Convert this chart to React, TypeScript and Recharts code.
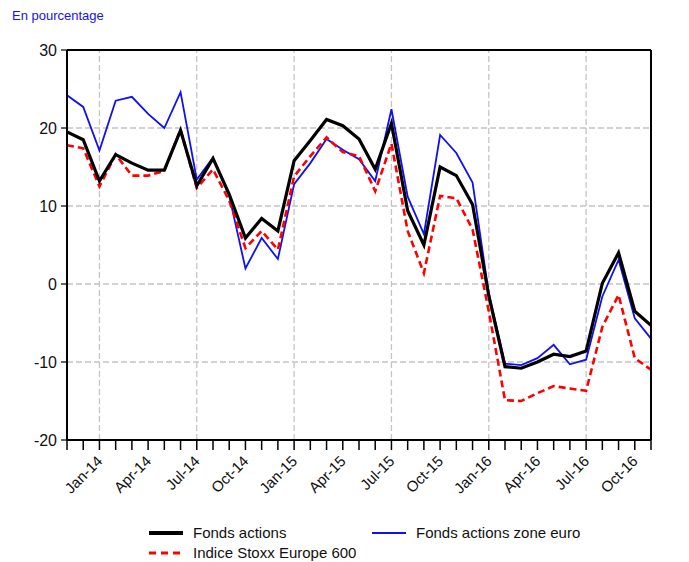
import React from "react";
import {
  LineChart,
  Line,
  XAxis,
  YAxis,
  CartesianGrid,
  ReferenceLine,
} from "recharts";

// Nov-13 .. Nov-16, monthly
const months = [
  "Nov-13", "Dec-13",
  "Jan-14", "Feb-14", "Mar-14", "Apr-14", "May-14", "Jun-14",
  "Jul-14", "Aug-14", "Sep-14", "Oct-14", "Nov-14", "Dec-14",
  "Jan-15", "Feb-15", "Mar-15", "Apr-15", "May-15", "Jun-15",
  "Jul-15", "Aug-15", "Sep-15", "Oct-15", "Nov-15", "Dec-15",
  "Jan-16", "Feb-16", "Mar-16", "Apr-16", "May-16", "Jun-16",
  "Jul-16", "Aug-16", "Sep-16", "Oct-16", "Nov-16",
];

const fondsActions = [
  19.5, 18.5,
  13.2, 16.6, 15.5, 14.6, 14.6, 19.7,
  12.6, 16.1, 11.5, 5.9, 8.4, 6.8,
  15.8, 18.4, 21.1, 20.3, 18.6, 14.7,
  20.6, 9.4, 5.0, 15.0, 13.9, 10.2,
  -1.5, -10.6, -10.8, -10.0, -9.0, -9.3,
  -8.6, 0.1, 4.0, -3.5, -5.3,
];

const fondsZoneEuro = [
  24.2, 22.7,
  17.1, 23.5, 24.0, 21.8, 20.0, 24.6,
  13.4, 16.2, 11.3, 2.0, 5.9, 3.2,
  12.8, 15.5, 18.6, 17.2, 16.0, 13.2,
  22.4, 11.2, 6.4, 19.1, 16.8, 13.0,
  -1.2, -10.2, -10.4, -9.5, -7.8, -10.3,
  -9.7, -1.6, 3.1, -4.4, -7.0,
];

const stoxx600 = [
  17.8, 17.4,
  12.5, 16.6, 13.9, 13.9, 14.5, 19.8,
  12.3, 14.7, 10.7, 4.6, 6.8, 4.4,
  13.8, 16.4, 18.8, 16.9, 16.4, 11.9,
  18.0, 6.8, 1.4, 11.3, 11.0, 7.0,
  -3.5, -14.9, -15.0, -14.0, -13.1, -13.4,
  -13.7, -5.5, -1.4, -9.5, -11.0,
];

const tickLabels = [
  "Jan-14", "Apr-14", "Jul-14", "Oct-14",
  "Jan-15", "Apr-15", "Jul-15", "Oct-15",
  "Jan-16", "Apr-16", "Jul-16", "Oct-16",
];
const gridMonths = ["Jan-14", "Jul-14", "Jan-15", "Jul-15", "Jan-16", "Jul-16"];
const yTicks = [-20, -10, 0, 10, 20, 30];

const data = months.map((month, i) => ({
  month,
  fonds: fondsActions[i],
  zoneEuro: fondsZoneEuro[i],
  stoxx: stoxx600[i],
}));

const FONT = "'Liberation Sans', Arial, sans-serif";
const GRID = "#c4c4c4";

function MonthTick(props: any) {
  const { x, y, payload } = props;
  if (!tickLabels.includes(payload.value)) return <g />;
  const tx = x + 4;
  const ty = y + 10;
  return (
    <text
      x={tx}
      y={ty}
      transform={`rotate(-45 ${tx} ${ty})`}
      textAnchor="end"
      fontSize={15}
      fontFamily={FONT}
      fill="#111"
    >
      {payload.value}
    </text>
  );
}

function LegendRow({ x, y, color, dash, width, label }: any) {
  return (
    <g>
      <line
        x1={x}
        x2={x + 34}
        y1={y}
        y2={y}
        stroke={color}
        strokeWidth={width}
        strokeDasharray={dash}
      />
      <text x={x + 44} y={y + 5} fontSize={15} fontFamily={FONT} fill="#111">
        {label}
      </text>
    </g>
  );
}

export default function App() {
  return (
    <div style={{ position: "absolute", left: 0, top: 0, width: 689, height: 562 }}>
      <div
        style={{
          position: "absolute",
          left: 12,
          top: 8,
          fontSize: 13,
          fontFamily: FONT,
          color: "#1414e6",
        }}
      >
        En pourcentage
      </div>
      <LineChart
        width={689}
        height={562}
        data={data}
        margin={{ top: 50, right: 0, bottom: 62, left: 0 }}
      >
        <CartesianGrid
          yAxisId="left"
          vertical={false}
          stroke={GRID}
          strokeDasharray="6 3"
          strokeWidth={1.3}
        />
        {gridMonths.map((m) => (
          <ReferenceLine
            key={m}
            x={m}
            yAxisId="left"
            stroke={GRID}
            strokeDasharray="6 3"
            strokeWidth={1.3}
          />
        ))}
        <XAxis
          dataKey="month"
          interval={0}
          height={60}
          tickSize={10}
          tickMargin={2}
          tick={<MonthTick />}
          axisLine={{ stroke: "#000", strokeWidth: 2 }}
          tickLine={{ stroke: "#000", strokeWidth: 1.5 }}
        />
        <YAxis
          yAxisId="left"
          width={67}
          domain={[-20, 30]}
          ticks={yTicks}
          interval={0}
          tickSize={6}
          tickMargin={4}
          axisLine={{ stroke: "#000", strokeWidth: 2 }}
          tickLine={{ stroke: "#000", strokeWidth: 1.2 }}
          tick={{ fontSize: 16, fontFamily: FONT, fill: "#111" }}
        />
        <YAxis
          yAxisId="right"
          orientation="right"
          width={38}
          domain={[-20, 30]}
          ticks={yTicks}
          interval={0}
          tickSize={6}
          tickMargin={5}
          axisLine={{ stroke: "#000", strokeWidth: 2 }}
          tickLine={{ stroke: "#000", strokeWidth: 1.2 }}
          tick={{ fontSize: 16, fontFamily: FONT, fill: "#111" }}
        />
        <ReferenceLine y={30} yAxisId="left" stroke="#000" strokeWidth={2} />
        <Line
          yAxisId="left"
          type="linear"
          dataKey="zoneEuro"
          stroke="#1010f0"
          strokeWidth={1.8}
          dot={false}
          isAnimationActive={false}
        />
        <Line
          yAxisId="left"
          type="linear"
          dataKey="stoxx"
          stroke="#ff0000"
          strokeWidth={2.6}
          strokeDasharray="7 4"
          dot={false}
          isAnimationActive={false}
        />
        <Line
          yAxisId="left"
          type="linear"
          dataKey="fonds"
          stroke="#000"
          strokeWidth={3.2}
          dot={false}
          isAnimationActive={false}
        />
      </LineChart>
      <svg
        width={689}
        height={562}
        style={{ position: "absolute", left: 0, top: 0, pointerEvents: "none" }}
      >
        <LegendRow x={149} y={533} color="#000" width={4} label="Fonds actions" />
        <LegendRow x={372} y={533} color="#1010f0" width={2.2} label="Fonds actions zone euro" />
        <LegendRow x={149} y={553} color="#ff0000" width={3} dash="7 5" label="Indice Stoxx Europe 600" />
      </svg>
    </div>
  );
}
